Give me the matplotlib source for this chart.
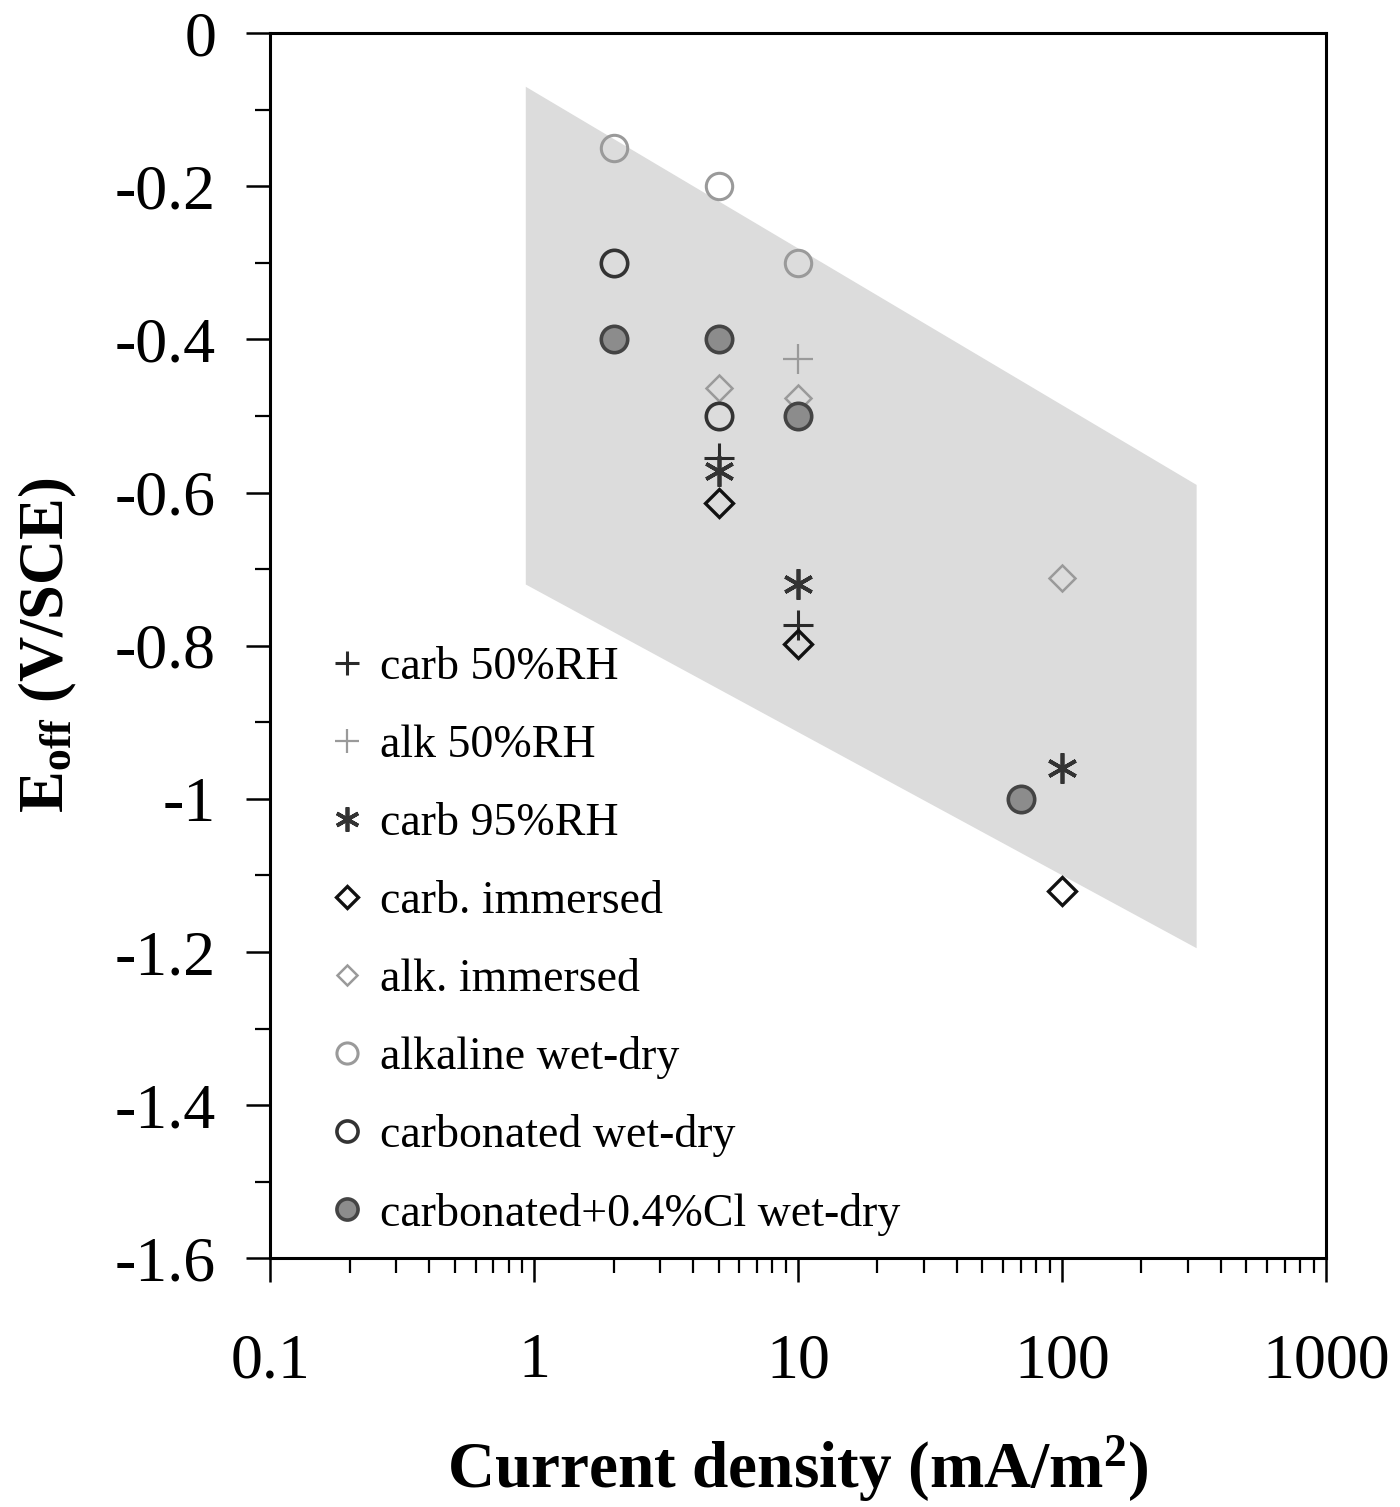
import numpy as np
import matplotlib.pyplot as plt
from matplotlib.ticker import FixedLocator, FixedFormatter, LogLocator, NullFormatter, MultipleLocator

plt.rcParams['font.family'] = ['Liberation Serif', 'DejaVu Serif']
plt.rcParams['mathtext.fontset'] = 'custom'
plt.rcParams['mathtext.rm'] = 'Liberation Serif'
plt.rcParams['mathtext.bf'] = 'Liberation Serif:bold'

# shaded band (data coords)
band_x = [0.93, 324, 324, 0.93]
band_y = [-0.07, -0.59, -1.195, -0.72]

# series
carb50_x = [5, 10]
carb50_y = [-0.555, -0.773]
alk50_x = [10]
alk50_y = [-0.425]
carb95_x = [5, 10, 100]
carb95_y = [-0.572, -0.72, -0.96]
carb_imm_x = [5, 10, 100]
carb_imm_y = [-0.613, -0.798, -1.12]
alk_imm_x = [5, 10, 100]
alk_imm_y = [-0.464, -0.476, -0.712]
alk_wd_x = [2, 5, 10]
alk_wd_y = [-0.15, -0.2, -0.3]
carb_wd_x = [2, 5]
carb_wd_y = [-0.3, -0.5]
carbcl_wd_x = [2, 5, 10, 70]
carbcl_wd_y = [-0.4, -0.4, -0.5, -1.0]

xticks = [0.1, 1, 10, 100, 1000]
xticklabels = ['0.1', '1', '10', '100', '1000']
yticks = [0, -0.2, -0.4, -0.6, -0.8, -1.0, -1.2, -1.4, -1.6]
yticklabels = ['0', '-0.2', '-0.4', '-0.6', '-0.8', '-1', '-1.2', '-1.4', '-1.6']

dark = '#2a2a2a'
light = '#9a9a9a'

fig = plt.figure(figsize=(14, 15.07), dpi=100)
ax = fig.add_axes([0.193, 0.165, 0.754, 0.813])

ax.fill(band_x, band_y, color='#dcdcdc', lw=0, zorder=1)

ax.plot(carb50_x, carb50_y, ls='none', marker='+', ms=21, mew=2.2, color=dark, label='carb 50%RH', zorder=3)
ax.plot(alk50_x, alk50_y, ls='none', marker='+', ms=21, mew=1.6, color=light, label='alk 50%RH', zorder=3)
ax.plot(carb95_x, carb95_y, ls='none', marker=(6, 2, 0), ms=22, mew=2.7, color='#333333', label='carb 95%RH', zorder=3)
ax.plot(carb_imm_x, carb_imm_y, ls='none', marker='D', ms=14, mew=2.4, mfc='none', mec='#111111', label='carb. immersed', zorder=3)
ax.plot(alk_imm_x, alk_imm_y, ls='none', marker='D', ms=13, mew=1.8, mfc='none', mec=light, label='alk. immersed', zorder=3)
ax.plot(alk_wd_x, alk_wd_y, ls='none', marker='o', ms=19, mew=2.2, mfc='none', mec=light, label='alkaline wet-dry', zorder=3)
ax.plot(carb_wd_x, carb_wd_y, ls='none', marker='o', ms=19, mew=2.6, mfc='none', mec='#333333', label='carbonated wet-dry', zorder=3)
ax.plot(carbcl_wd_x, carbcl_wd_y, ls='none', marker='o', ms=19, mew=2.6, mfc='#8c8c8c', mec='#444444', label='carbonated+0.4%Cl wet-dry', zorder=3)

ax.set_xscale('log')
ax.set_xlim(0.1, 1000)
ax.set_ylim(-1.6, 0)

ax.xaxis.set_major_locator(FixedLocator(xticks))
ax.xaxis.set_major_formatter(FixedFormatter(xticklabels))
ax.xaxis.set_minor_locator(LogLocator(base=10, subs=np.arange(2, 10)))
ax.xaxis.set_minor_formatter(NullFormatter())
ax.yaxis.set_major_locator(FixedLocator(yticks))
ax.yaxis.set_major_formatter(FixedFormatter(yticklabels))
ax.yaxis.set_minor_locator(MultipleLocator(0.1))

ax.tick_params(which='major', direction='out', length=17, width=1.8, labelsize=46, pad=22)
ax.tick_params(which='minor', direction='out', length=11, width=1.6)
ax.tick_params(axis='x', which='major', pad=37)
for s in ax.spines.values():
    s.set_linewidth(2.2)

ax.set_xlabel(r'Current density (mA/m$\mathbf{^2}$)', fontsize=47, fontweight='bold', labelpad=30)
ax.set_ylabel(r'$\mathbf{E_{off}}$ (V/SCE)', fontsize=45, fontweight='bold', labelpad=26)

leg = ax.legend(loc='upper left', bbox_to_anchor=(0.058, 0.499), frameon=False, fontsize=33,
                handlelength=0.7, handletextpad=0.35, labelspacing=0.77, borderpad=0,
                borderaxespad=0, markerscale=0.8)

fig.savefig('out.png', dpi=100)
